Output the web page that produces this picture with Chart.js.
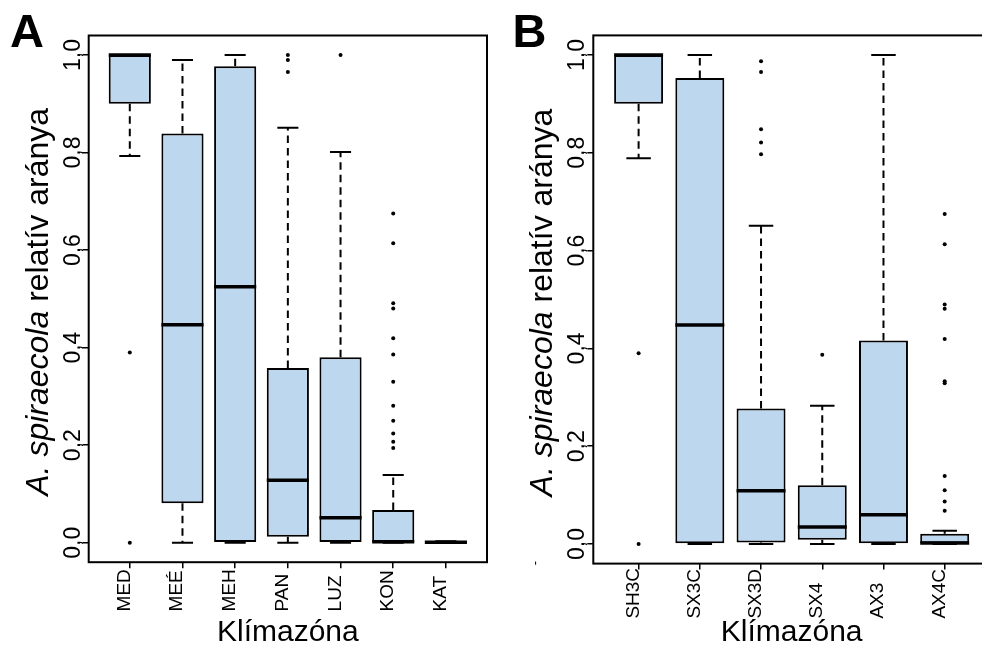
<!DOCTYPE html>
<html>
<head>
<meta charset="utf-8">
<script src="https://cdn.jsdelivr.net/npm/chart.js@4.4.1/dist/chart.umd.min.js"></script>
<style>
  html, body { margin: 0; padding: 0; background: #fff; width: 982px; height: 651px; overflow: hidden; }
  .panel { position: absolute; top: 0; }
  #wrapA { left: 0; }
  #wrapB { left: 491px; }
</style>
</head>
<body>
<div class="panel" id="wrapA"><canvas id="chartA" width="491" height="651"></canvas></div>
<div class="panel" id="wrapB"><canvas id="chartB" width="503" height="651"></canvas></div>
<script>
// panel A - climate zones
const zonesA = ['MED', 'MEÉ', 'MEH', 'PAN', 'LUZ', 'KON', 'KAT'];
const q1A  = [0.900, 0.081, 0.000, 0.012, 0.000, 0.000, 0.000];
const medA = [1.000, 0.447, 0.525, 0.128, 0.051, 0.002, 0.001];
const q3A  = [1.000, 0.839, 0.977, 0.358, 0.380, 0.067, 0.003];
const loA  = [0.793, 0.000, 0.000, 0.000, 0.000, 0.000, 0.000];
const hiA  = [1.000, 0.990, 1.000, 0.851, 0.801, 0.139, 0.003];
const outA = [
  [0.39, 0.0],
  [],
  [],
  [1.0, 0.99, 0.965],
  [1.0],
  [0.675, 0.614, 0.491, 0.480, 0.419, 0.386, 0.330, 0.281, 0.250, 0.224, 0.207, 0.194],
  []
];

// panel B
const zonesB = ['SH3C', 'SX3C', 'SX3D', 'SX4', 'AX3', 'AX4C'];
const q1B  = [0.900, 0.000, 0.003, 0.009, 0.000, 0.000];
const medB = [1.000, 0.448, 0.109, 0.035, 0.060, 0.002];
const q3B  = [1.000, 0.953, 0.277, 0.120, 0.416, 0.021];
const loB  = [0.789, 0.000, 0.000, 0.000, 0.000, 0.000];
const hiB  = [1.000, 1.000, 0.651, 0.283, 1.000, 0.027];
const outB = [
  [0.39, 0.0],
  [],
  [0.987, 0.965, 0.848, 0.821, 0.797],
  [0.387],
  [],
  [0.675, 0.613, 0.490, 0.481, 0.419, 0.333, 0.329, 0.139, 0.110, 0.087, 0.068]
];

const yTicks = [0, 0.2, 0.4, 0.6, 0.8, 1.0];

const FONT = "'Liberation Sans', Arial, Helvetica, sans-serif";
const BOX_FILL = '#BDD7EE';

function boxPlugin(cats, q1, med, q3, lo, hi, g) {
  return {
    id: 'boxExtras',
    beforeDatasetsDraw(chart) {
      const ctx = chart.ctx, xs = chart.scales.x, ys = chart.scales.y;
      const staple = xs.getPixelForValue(1.2) - xs.getPixelForValue(1);
      ctx.save();
      ctx.strokeStyle = '#000';
      ctx.lineWidth = 2;
      cats.forEach((c, i) => {
        const x = xs.getPixelForValue(i + 1);
        ctx.setLineDash([7.5, 5]);
        ctx.beginPath();
        ctx.moveTo(x, ys.getPixelForValue(q3[i]));
        ctx.lineTo(x, ys.getPixelForValue(hi[i]));
        ctx.moveTo(x, ys.getPixelForValue(q1[i]));
        ctx.lineTo(x, ys.getPixelForValue(lo[i]));
        ctx.stroke();
        ctx.setLineDash([]);
        ctx.beginPath();
        [hi[i], lo[i]].forEach(v => {
          const y = ys.getPixelForValue(v);
          ctx.moveTo(x - staple, y);
          ctx.lineTo(x + staple, y);
        });
        ctx.stroke();
      });
      ctx.restore();
    },
    afterDatasetsDraw(chart) {
      const ctx = chart.ctx, xs = chart.scales.x, ys = chart.scales.y;
      const half = xs.getPixelForValue(1.4) - xs.getPixelForValue(1);
      ctx.save();
      // medians
      ctx.strokeStyle = '#000';
      ctx.lineWidth = 3.5;
      cats.forEach((c, i) => {
        const x = xs.getPixelForValue(i + 1);
        const y = ys.getPixelForValue(med[i]);
        ctx.beginPath();
        ctx.moveTo(x - half, y);
        ctx.lineTo(x + half, y);
        ctx.stroke();
      });
      // frame
      const a = chart.chartArea;
      ctx.lineWidth = 2;
      ctx.strokeRect(a.left, a.top, a.right - a.left, a.bottom - a.top);

      ctx.fillStyle = '#000';
      // y tick labels, rotated
      ctx.font = '23px ' + FONT;
      ctx.textAlign = 'center';
      ctx.textBaseline = 'alphabetic';
      yTicks.forEach(v => {
        ctx.save();
        ctx.translate(a.left - 9, ys.getPixelForValue(v));
        ctx.rotate(-Math.PI / 2);
        ctx.fillText(v.toFixed(1).replace('.', ','), 0, 0);
        ctx.restore();
      });
      // x tick labels, rotated, reading upward
      ctx.font = '19px ' + FONT;
      ctx.textAlign = 'left';
      cats.forEach((c, i) => {
        ctx.save();
        ctx.translate(xs.getPixelForValue(i + 1), g.xLabelBase);
        ctx.rotate(-Math.PI / 2);
        ctx.fillText(c, 0, 0);
        ctx.restore();
      });
      // y axis title, mixed italic / regular
      const part1 = 'A. spiraecola', part2 = ' relatív aránya';
      ctx.font = 'italic 32px ' + FONT;
      const w1 = ctx.measureText(part1).width;
      ctx.font = '32px ' + FONT;
      const w2 = ctx.measureText(part2).width;
      ctx.save();
      ctx.translate(a.left - 41, (a.top + a.bottom) / 2 + 3);
      ctx.rotate(-Math.PI / 2);
      ctx.textAlign = 'left';
      ctx.font = 'italic 32px ' + FONT;
      ctx.fillText(part1, -(w1 + w2) / 2, 0);
      ctx.font = '32px ' + FONT;
      ctx.fillText(part2, -(w1 + w2) / 2 + w1, 0);
      ctx.restore();
      // panel letter
      ctx.font = 'bold 47px ' + FONT;
      ctx.textAlign = 'left';
      ctx.fillText(g.letter, g.letterX, 46.7);
      if (g.mark) {
        ctx.save();
        ctx.font = '13px ' + FONT;
        ctx.translate(g.mark[0], g.mark[1]);
        ctx.rotate(-Math.PI / 2);
        ctx.textAlign = 'center';
        ctx.textBaseline = 'middle';
        ctx.fillText('-', 0, 0);
        ctx.restore();
      }
      ctx.restore();
    }
  };
}

function makeChart(id, cats, q1, med, q3, lo, hi, out, g) {
  const boxes = cats.map((c, i) => ({ x: i + 1, y: [q1[i], q3[i]] }));
  const points = [];
  out.forEach((vals, i) => vals.forEach(v => points.push({ x: i + 1, y: v })));

  const axisGrid = {
    display: true,
    drawOnChartArea: false,
    drawTicks: true,
    tickLength: 6,
    color: '#000',
    lineWidth: 1.5,
    offset: false
  };

  return new Chart(document.getElementById(id).getContext('2d'), {
    type: 'bar',
    data: {
      datasets: [{
        data: boxes,
        backgroundColor: BOX_FILL,
        borderColor: '#000',
        borderWidth: 2,
        borderSkipped: false,
        barPercentage: 0.8,
        categoryPercentage: 1.0
      }, {
        type: 'scatter',
        data: points,
        pointRadius: 2,
        pointBackgroundColor: '#000',
        pointBorderWidth: 0
      }]
    },
    plugins: [boxPlugin(cats, q1, med, q3, lo, hi, g)],
    options: {
      responsive: false,
      animation: false,
      layout: { padding: { top: g.top, right: g.right, left: 0, bottom: 0 } },
      plugins: { legend: { display: false }, tooltip: { enabled: false } },
      scales: {
        x: {
          type: 'linear',
          min: g.xMin,
          max: g.xMax,
          offset: false,
          grid: axisGrid,
          border: { display: false },
          ticks: { display: false },
          afterBuildTicks: s => { s.ticks = cats.map((c, i) => ({ value: i + 1 })); },
          afterFit: s => { s.height = g.xHeight; },
          title: {
            display: true,
            text: 'Klímazóna',
            color: '#000',
            font: { family: FONT, size: 30 },
            padding: 0
          }
        },
        y: {
          type: 'linear',
          min: -0.04,
          max: 1.04,
          grid: axisGrid,
          border: { display: false },
          ticks: { display: false },
          afterBuildTicks: s => { s.ticks = yTicks.map(v => ({ value: v })); },
          afterFit: s => { s.width = g.yWidth; }
        }
      }
    }
  });
}

makeChart('chartA', zonesA, q1A, medA, q3A, loA, hiA, outA, {
  xMin: 0.22, xMax: 7.78, top: 35.5, right: 2, yWidth: 88.7, xHeight: 88.8,
  xLabelBase: 611.4, letter: 'A', letterX: 10
});
makeChart('chartB', zonesB, q1B, medB, q3B, loB, hiB, outB, {
  xMin: 0.26, xMax: 6.74, top: 35.4, right: 2.3, yWidth: 102.3, xHeight: 87.4,
  xLabelBase: 618.6, letter: 'B', letterX: 21.6, mark: [44, 563]
});
</script>
</body>
</html>
